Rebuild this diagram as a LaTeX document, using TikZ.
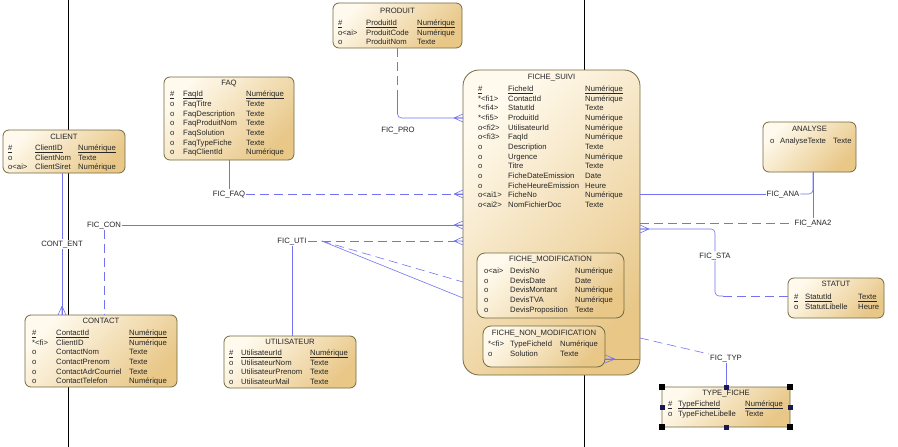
\documentclass[tikz,border=0pt]{standalone}
\usepackage{fontspec}
\setmainfont{Liberation Sans}
\usepackage{tikz}
\usetikzlibrary{calc}
\definecolor{linkblue}{rgb}{0.45,0.45,0.95}
\definecolor{entlight}{rgb}{1.0,0.98,0.93}
\definecolor{enttan}{rgb}{0.91,0.78,0.53}
\definecolor{entborder}{rgb}{0.45,0.42,0.25}
\definecolor{handleblue}{rgb}{0.1,0.1,0.35}
\newcommand{\entfont}{\fontsize{7.7}{9.67}\selectfont}
\newcommand{\ul}[1]{\underline{\smash{#1}\vphantom{N}}}
\newcommand{\entrows}[3]{\begin{tabular}{@{}p{#1pt}@{}p{#2pt}@{}l@{}}#3\end{tabular}}
\newcommand{\crowfoot}[3]{\draw[fk,solid] ($(#1)+(#2)$) -- ($(#1)+(#3)$) ($(#1)+(#2)$) -- ($(#1)-(#3)$) ($(#1)+(#2)$) -- (#1);}

\begin{document}
\begin{tikzpicture}[x=1pt,y=-1pt]
        \tikzstyle{entity}=[draw=entborder, line width=0.8pt, top color=entlight, bottom color=enttan, shading angle=45, rounded corners=6pt, anchor=north west, inner sep=0pt, outer sep=0pt]
        \tikzstyle{enttitle}=[inner sep=0pt, text height=5.5pt, text depth=0pt, font=\entfont, text=black!85]
        \tikzstyle{entrow}=[anchor=north west, inner sep=0pt, font=\entfont, text=black!85]
        \tikzstyle{lnk}=[fill=white, inner sep=1pt, text height=5.5pt, text depth=1.5pt, font=\entfont, text=black!85]
        \tikzstyle{fk}=[draw=linkblue, line width=0.6pt]
        \tikzstyle{opt}=[dash pattern=on 9pt off 5pt]
        \tikzstyle{pageline}=[black, line width=0.6pt]
        \fill[white] (0,0) rectangle (898,447);
        \useasboundingbox (0,0) rectangle (898,447);
        % page limits
        \draw[pageline] (68,0) -- (68,447);
        \draw[pageline] (584,0) -- (584,447);
        % PRODUIT
        \node[entity, minimum width=129, minimum height=45] (produit) at (333,3) {};
        \node[enttitle] (produit-h) at ($(produit.north)+(0,8)$) {PRODUIT};
        \node[entrow] (produit-r) at ($(produit.north west)+(5,15.5)$) {\entrows{28}{51}{%
            \ul{\#} & \ul{ProduitId} & \ul{Numérique}\\
            o<ai> & ProduitCode & Numérique\\
            o & ProduitNom & Texte}};
        % FAQ
        \node[entity, minimum width=130, minimum height=83] (faq) at (164,77) {};
        \node[enttitle] (faq-h) at ($(faq.north)+(0,6)$) {FAQ};
        \node[entrow] (faq-r) at ($(faq.north west)+(6,13)$) {\entrows{13}{63}{%
            \ul{\#} & \ul{FaqId} & \ul{Numérique}\\
            o & FaqTitre & Texte\\
            o & FaqDescription & Texte\\
            o & FaqProduitNom & Texte\\
            o & FaqSolution & Texte\\
            o & FaqTypeFiche & Texte\\
            o & FaqClientId & Numérique}};
        % CLIENT
        \node[entity, minimum width=122, minimum height=43] (client) at (3,130) {};
        \node[enttitle] (client-h) at ($(client.north)+(0,6.5)$) {CLIENT};
        \node[entrow] (client-r) at ($(client.north west)+(5,13.5)$) {\entrows{27}{43}{%
            \ul{\#} & \ul{ClientID} & \ul{Numérique}\\
            o & ClientNom & Texte\\
            o<ai> & ClientSiret & Numérique}};
        % CONTACT
        \node[entity, minimum width=152, minimum height=72] (contact) at (25,315) {};
        \node[enttitle] (contact-h) at ($(contact.north)+(0,6)$) {CONTACT};
        \node[entrow] (contact-r) at ($(contact.north west)+(7,13.5)$) {\entrows{24}{73}{%
            \ul{\#} & \ul{ContactId} & \ul{Numérique}\\
            {*}<fi> & ClientID & Numérique\\
            o & ContactNom & Texte\\
            o & ContactPrenom & Texte\\
            o & ContactAdrCourriel & Texte\\
            o & ContactTelefon & Numérique}};
        % UTILISATEUR
        \node[entity, minimum width=132, minimum height=52] (utilisateur) at (224,336) {};
        \node[enttitle] (utilisateur-h) at ($(utilisateur.north)+(0,6)$) {UTILISATEUR};
        \node[entrow] (utilisateur-r) at ($(utilisateur.north west)+(5,12.5)$) {\entrows{12}{69}{%
            \ul{\#} & \ul{UtilisateurId} & \ul{Numérique}\\
            o & UtilisateurNom & Texte\\
            o & UtilisateurPrenom & Texte\\
            o & UtilisateurMail & Texte}};
        % FICHE_SUIVI
        \node[entity, rounded corners=16pt, minimum width=177, minimum height=305] (fiche) at (463,70) {};
        \node[enttitle] (fiche-h) at ($(fiche.north)+(0,7)$) {FICHE\_SUIVI};
        \node[entrow] (fiche-r) at ($(fiche.north west)+(15,14.5)$) {\entrows{30}{77}{%
            \ul{\#} & \ul{FicheId} & \ul{Numérique}\\
            {*}<fi1> & ContactId & Numérique\\
            {*}<fi4> & StatutId & Texte\\
            {*}<fi5> & ProduitId & Numérique\\
            o<fi2> & UtilisateurId & Numérique\\
            o<fi3> & FaqId & Numérique\\
            o & Description & Texte\\
            o & Urgence & Numérique\\
            o & Titre & Texte\\
            o & FicheDateEmission & Date\\
            o & FicheHeureEmission & Heure\\
            o<ai1> & FicheNo & Numérique\\
            o<ai2> & NomFichierDoc & Texte}};
        % FICHE_MODIFICATION
        \node[entity, rounded corners=8pt, minimum width=147, minimum height=65] (fmodif) at (477,253) {};
        \node[enttitle] (fmodif-h) at ($(fmodif.north)+(0,5.5)$) {FICHE\_MODIFICATION};
        \node[entrow] (fmodif-r) at ($(fmodif.north west)+(7,13.5)$) {\entrows{26}{65}{%
            o<ai> & DevisNo & Numérique\\
            o & DevisDate & Date\\
            o & DevisMontant & Numérique\\
            o & DevisTVA & Numérique\\
            o & DevisProposition & Texte}};
        % FICHE_NON_MODIFICATION
        \node[entity, rounded corners=8pt, minimum width=122, minimum height=41] (fnonmod) at (483,326) {};
        \node[enttitle] (fnonmod-h) at ($(fnonmod.north)+(0,7)$) {FICHE\_NON\_MODIFICATION};
        \node[entrow] (fnonmod-r) at ($(fnonmod.north west)+(5,14)$) {\entrows{22}{50}{%
            {*}<fi> & TypeFicheId & Numérique\\
            o & Solution & Texte}};
        % ANALYSE
        \node[entity, minimum width=93, minimum height=50] (analyse) at (763,122) {};
        \node[enttitle] (analyse-h) at ($(analyse.north)+(0,7)$) {ANALYSE};
        \node[entrow] (analyse-r) at ($(analyse.north west)+(7,14.5)$) {\entrows{10}{53}{%
            o & AnalyseTexte & Texte}};
        % STATUT
        \node[entity, minimum width=96, minimum height=40] (statut) at (788,278) {};
        \node[enttitle] (statut-h) at ($(statut.north)+(0,6)$) {STATUT};
        \node[entrow] (statut-r) at ($(statut.north west)+(6,14.5)$) {\entrows{11}{53}{%
            \ul{\#} & \ul{StatutId} & \ul{Texte}\\
            o & StatutLibelle & Heure}};
        % TYPE_FICHE
        \node[entity, rounded corners=3pt, minimum width=128, minimum height=40] (typefiche) at (662,387) {};
        \node[enttitle] (typefiche-h) at ($(typefiche.north)+(0,6)$) {TYPE\_FICHE};
        \node[entrow] (typefiche-r) at ($(typefiche.north west)+(6,13)$) {\entrows{10}{67}{%
            \ul{\#} & \ul{TypeFicheId} & \ul{Numérique}\\
            o & TypeFicheLibelle & Texte}};
        % link labels
        \node[lnk] (lpro) at (398,130) {FIC\_PRO};
        \node[lnk] (lfaq) at (229,194) {FIC\_FAQ};
        \node[lnk] (lcon) at (104,225) {FIC\_CON};
        \node[lnk] (lent) at (62,244) {CONT\_ENT};
        \node[lnk] (luti) at (292,241) {FIC\_UTI};
        \node[lnk] (lana) at (783,194) {FIC\_ANA};
        \node[lnk] (lana2) at (813,223) {FIC\_ANA2};
        \node[lnk] (lsta) at (715,256) {FIC\_STA};
        \node[lnk] (ltyp) at (726,358) {FIC\_TYP};
        % FIC_PRO
        \coordinate (pro-bend) at ($(produit.south)+(0,48)$);
        \coordinate (fs-pro) at ($(fiche.north west)+(0,48)$);
        \draw[fk,opt] (produit.south) -- (pro-bend);
        \draw[fk,rounded corners=4pt] (pro-bend) |- (fs-pro);
        \crowfoot{fs-pro}{-9,0}{0,4}
        % FIC_FAQ
        \coordinate (fs-faq) at ($(fiche.north west)+(0,124)$);
        \draw[fk] (faq) -- (lfaq);
        \draw[fk,opt] (lfaq) -- (fs-faq);
        \crowfoot{fs-faq}{-9,0}{0,4}
        % FIC_CON
        \coordinate (fs-con) at ($(fiche.north west)+(0,155)$);
        \draw[fk] (lcon) -- (fs-con);
        \draw[fk,opt] (lcon) -- (lcon |- contact.north);
        \crowfoot{fs-con}{-9,0}{0,4}
        % CONT_ENT
        \coordinate (ct-ent) at (lent |- contact.north);
        \draw[fk] (lent |- client.south) -- (lent);
        \draw[fk] (lent) -- (ct-ent);
        \crowfoot{ct-ent}{0,-9}{4,0}
        % FIC_UTI
        \coordinate (fs-uti) at ($(fiche.north west)+(0,171)$);
        \coordinate (uti-fork) at ($(luti.east)+(14,0)$);
        \coordinate (fs-uti2) at ($(fiche.north west)+(0,212)$);
        \coordinate (fs-uti3) at ($(fiche.north west)+(0,228)$);
        \draw[fk,opt] (luti) -- (fs-uti);
        \draw[fk] (luti) -- (luti |- utilisateur.north);
        \draw[fk,opt] (uti-fork) -- (fs-uti2);
        \draw[fk] (uti-fork) -- (fs-uti3);
        \crowfoot{fs-uti}{-9,0}{0,4}
        % FIC_ANA and FIC_ANA2
        \coordinate (fs-ana) at ($(fiche.north east)+(0,124)$);
        \coordinate (fs-ana2) at ($(fiche.north east)+(0,153)$);
        \coordinate (an-foot) at ($(analyse.south west)+(50,0)$);
        \draw[fk] (fs-ana) -- (lana);
        \draw[fk,rounded corners=4pt] (lana.east) -| (an-foot);
        \draw[fk,opt] (fs-ana2) -- (lana2);
        \draw[fk] (lana2) -- (lana2 |- analyse.south);
        % FIC_STA
        \coordinate (fs-sta) at ($(fiche.north east)+(0,159)$);
        \coordinate (st-in) at ($(statut.north west)+(0,18)$);
        \coordinate (sta-bend) at ($(lsta |- st-in)+(8,0)$);
        \draw[fk,rounded corners=4pt] (fs-sta) -| (lsta);
        \draw[fk,rounded corners=4pt] (lsta) |- (sta-bend);
        \draw[fk,opt] (sta-bend) -- (st-in);
        \crowfoot{fs-sta}{9,0}{0,4}
        % FIC_TYP
        \coordinate (nm-typ) at ($(fnonmod.south east)+(0,-8)$);
        \coordinate (fs-typ) at ($(fiche.south east)+(0,-16)$);
        \coordinate (fs-typ2) at ($(fiche.south east)+(0,-37)$);
        \draw[fk] (nm-typ) -- (fs-typ);
        \draw[fk,opt] (fs-typ2) -- (ltyp);
        \draw[fk] (ltyp) -- (typefiche);
        \crowfoot{nm-typ}{10,0}{0,4}
        % selection handles on TYPE_FICHE
        \foreach \c in {north west,north east,south west,south east}
            \fill[black] ($(typefiche.\c)+(-3,-3)$) rectangle +(6,6);
        \foreach \c in {north,south,west,east}
            \fill[handleblue] ($(typefiche.\c)+(-2.5,-2.5)$) rectangle +(5,5);
\end{tikzpicture}
\end{document}
